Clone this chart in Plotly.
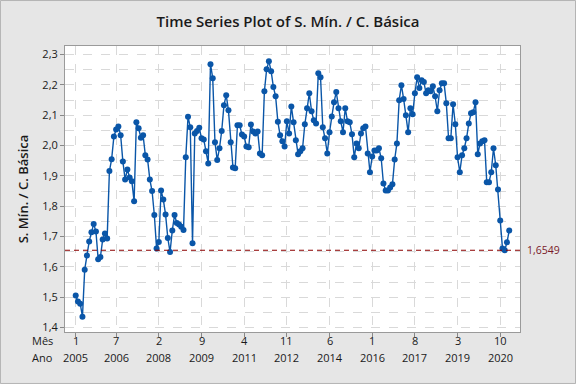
import plotly.graph_objects as go

# ---- data ----
values = [
    1.506, 1.486, 1.479, 1.436, 1.591, 1.638, 1.684, 1.714, 1.741, 1.717,
    1.625, 1.633, 1.690, 1.710, 1.694, 1.916, 1.955, 2.030, 2.053, 2.063,
    2.034, 1.947, 1.888, 1.921, 1.895, 1.882, 1.816, 2.077, 2.057, 2.026,
    2.034, 1.968, 1.954, 1.888, 1.850, 1.771, 1.661, 1.682, 1.852, 1.822,
    1.773, 1.695, 1.649, 1.720, 1.771, 1.745, 1.740, 1.732, 1.722, 1.961,
    2.095, 2.060, 1.678, 2.040, 2.048, 2.059, 2.024, 2.020, 1.981, 1.941,
    2.268, 2.222, 2.011, 1.952, 1.991, 2.048, 2.133, 2.166, 2.116, 2.011,
    1.928, 1.925, 2.067, 2.067, 2.036, 2.030, 1.997, 1.994, 2.069, 2.046,
    2.040, 2.046, 1.974, 1.968, 2.179, 2.251, 2.278, 2.245, 2.193, 2.162,
    2.078, 2.034, 2.014, 1.997, 2.080, 2.040, 2.129, 2.077, 2.017, 1.971,
    1.981, 1.991, 2.070, 2.123, 2.172, 2.113, 2.083, 2.073, 2.238, 2.225,
    2.060, 2.024, 1.974, 2.044, 2.096, 2.143, 2.176, 2.123, 2.080, 2.044,
    2.123, 2.080, 2.077, 2.037, 1.961, 2.007, 1.991, 2.040, 2.057, 2.063,
    1.974, 1.912, 1.964, 1.984, 1.984, 1.991, 1.958, 1.875, 1.852, 1.852,
    1.862, 1.872, 1.954, 2.007, 2.149, 2.199, 2.153, 2.100, 2.044, 2.123,
    2.103, 2.172, 2.225, 2.190, 2.215, 2.209, 2.172, 2.182, 2.179, 2.195,
    2.162, 2.113, 2.182, 2.205, 2.205, 2.139, 2.024, 2.024, 2.136, 2.070,
    1.961, 1.912, 1.968, 1.991, 2.024, 2.073, 2.106, 2.110, 2.143, 1.971,
    2.007, 2.014, 2.017, 1.879, 1.879, 1.912, 1.991, 1.935, 1.855, 1.753,
    1.661, 1.655, 1.681, 1.720,
]
index = list(range(1, len(values) + 1))

tick_index = [1, 19, 38, 57, 76, 95, 114, 133, 152, 171, 190]
tick_month = ["1", "7", "2", "9", "4", "11", "6", "1", "8", "3", "10"]
tick_year = ["2005", "2006", "2008", "2009", "2011", "2012",
             "2014", "2016", "2017", "2019", "2020"]

ref_value = 1.6549
ref_label = "1,6549"

y_ticks = [1.4, 1.5, 1.6, 1.7, 1.8, 1.9, 2.0, 2.1, 2.2, 2.3]

BLUE = "#0a56a8"
RED = "#8c0000"
FONT = "Open Sans"

fig = go.Figure()
fig.add_trace(go.Scatter(
    x=index, y=values, mode="lines+markers",
    line=dict(color=BLUE, width=1.4),
    marker=dict(color=BLUE, size=6),
    showlegend=False, hoverinfo="skip",
))

# reference line
fig.add_shape(type="line", xref="paper", yref="y", x0=0, x1=1,
              y0=ref_value, y1=ref_value,
              line=dict(color=RED, width=1.1, dash="5px,4px"))
fig.add_annotation(xref="paper", yref="y", x=1.01, y=ref_value,
                   text=ref_label, showarrow=False, xanchor="left",
                   font=dict(family=FONT, size=10.5, color="#7a1a2a"))

# two-row x labels
for xi, m, yr in zip(tick_index, tick_month, tick_year):
    fig.add_annotation(xref="x", yref="paper", x=xi, y=-0.028, text=m,
                       showarrow=False, yanchor="middle",
                       font=dict(family=FONT, size=11, color="#1a1a1a"))
    fig.add_annotation(xref="x", yref="paper", x=xi, y=-0.090, text=yr,
                       showarrow=False, yanchor="middle",
                       font=dict(family=FONT, size=11, color="#1a1a1a"))
for txt, yy in (("Mês", -0.028), ("Ano", -0.090)):
    fig.add_annotation(xref="paper", yref="paper", x=-0.022, y=yy, text=txt,
                       showarrow=False, xanchor="right", yanchor="middle",
                       font=dict(family=FONT, size=11, color="#1a1a1a"))

# outer border
fig.add_shape(type="rect", xref="paper", yref="paper",
              x0=-0.1418, x1=1.1220, y0=-0.1800, y1=1.1590,
              line=dict(color="#b4b4b4", width=1), layer="below")

fig.update_layout(
    width=576, height=384,
    margin=dict(l=65, r=56, t=46, b=52),
    paper_bgcolor="#e6e6e6", plot_bgcolor="white",
    separators=",.",
    font=dict(family=FONT, size=11, color="#1a1a1a"),
    title=dict(text="Time Series Plot of S. Mín. / C. Básica",
               x=0.5, xanchor="center", y=0.943, yanchor="middle",
               font=dict(family=FONT, size=15, color="#1a1a1a", weight=600)),
    xaxis=dict(range=[-3.77, 198.8], tickvals=tick_index,
               showticklabels=False, ticks="outside", ticklen=4,
               tickcolor="#888888",
               showgrid=True, gridcolor="#d9d9d9", griddash="dash",
               gridwidth=1, zeroline=False,
               showline=True, linecolor="#9a9a9a", linewidth=1, mirror=True),
    yaxis=dict(range=[1.3855, 2.328], tickvals=y_ticks, tickformat=".1f",
               ticks="outside", ticklen=4, tickcolor="#888888",
               tickfont=dict(family=FONT, size=11),
               showgrid=True, gridcolor="#d9d9d9", griddash="dash",
               zeroline=False,
               minor=dict(dtick=0.05, tick0=1.4, showgrid=True,
                          gridcolor="#d9d9d9", griddash="dash", ticks=""),
               showline=True, linecolor="#9a9a9a", linewidth=1, mirror=True,
               title=dict(text="S. Mín. / C. Básica", standoff=10,
                          font=dict(family=FONT, size=13, weight=600))),
)

fig.write_html(
    "out.html",
    config={"displayModeBar": False},
    post_script="document.body.style.margin='0';document.body.style.overflow='hidden';",
)
